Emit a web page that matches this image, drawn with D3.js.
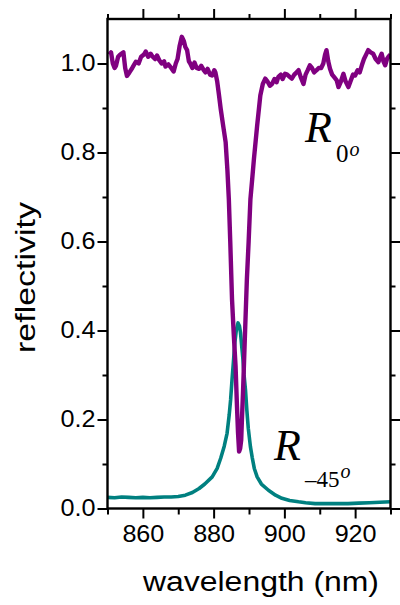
<!DOCTYPE html>
<html>
<head>
<meta charset="utf-8">
<script src="https://cdn.jsdelivr.net/npm/d3@7"></script>
<style>
  html, body { margin: 0; padding: 0; background: #fff; }
  svg { display: block; }
</style>
</head>
<body>
<svg id="chart" width="400" height="605"></svg>
<script>
// R at 0 degrees (purple)
const wl0 = [850.5, 851.0, 851.5, 852.0, 852.4, 853.0, 853.6, 854.5, 855.0, 855.5, 856.2, 857.0, 858.0, 858.8, 859.5,
  860.3, 860.8, 861.5, 862.2, 862.7, 863.5, 864.0, 864.6, 865.3, 866.0, 866.4, 867.2, 868.0, 868.7, 869.3, 869.8,
  870.4, 871.0, 871.6, 872.0, 872.5, 873.0, 873.4, 874.0, 874.6, 875.2, 875.9, 876.5, 877.2, 877.7, 878.3, 879.0,
  879.6, 880.2, 880.5, 881.0, 881.5, 882.0, 882.7, 883.4, 883.9, 884.3, 884.7, 885.2, 885.7, 886.2, 886.6, 886.9,
  887.2, 887.5, 887.8, 888.0, 888.3, 888.6, 888.9, 889.4, 889.9, 890.4, 890.9, 891.4, 892.3, 893.2, 893.9, 894.6,
  895.2, 895.9, 896.5, 897.2, 897.8, 898.3, 899.0, 899.5, 900.2, 900.8, 901.5, 902.1, 902.8, 903.4, 904.0, 904.6,
  905.4, 906.0, 906.6, 907.2, 907.8, 908.4, 909.1, 909.7, 910.4, 911.0, 911.5, 911.9, 912.4, 912.9, 913.5, 914.2,
  914.8, 915.3, 916.0, 916.7, 917.3, 918.1, 918.7, 919.4, 920.0, 920.7, 921.3, 921.9, 922.5, 923.1, 923.7, 924.4,
  925.1, 925.8, 926.6, 927.1, 927.5, 928.0, 928.5, 929.0, 929.4, 930.0];
const r0 = [1.02, 1.025, 1.0, 0.99, 0.995, 1.015, 1.02, 1.025, 0.99, 0.972, 0.98, 0.99, 1.004, 1.0, 1.015,
  1.02, 1.027, 1.015, 1.022, 1.016, 1.01, 1.018, 1.008, 1.0, 1.005, 0.993, 0.998, 0.99, 0.982, 1.0, 1.01,
  1.04, 1.06, 1.05, 1.037, 1.03, 1.005, 1.0, 0.99, 1.002, 0.99, 0.988, 0.995, 0.985, 0.98, 0.988, 0.975,
  0.973, 0.985, 0.98, 0.96, 0.93, 0.898, 0.86, 0.823, 0.76, 0.695, 0.6, 0.47, 0.39, 0.32, 0.23, 0.17,
  0.128, 0.135, 0.154, 0.2, 0.26, 0.33, 0.4, 0.515, 0.6, 0.695, 0.74, 0.786, 0.86, 0.928, 0.954, 0.966,
  0.96, 0.95, 0.954, 0.965, 0.958, 0.97, 0.975, 0.965, 0.977, 0.975, 0.97, 0.966, 0.975, 0.98, 0.985, 0.97,
  0.954, 0.975, 0.985, 0.996, 0.99, 0.98, 0.985, 0.99, 0.99, 1.0, 1.02, 1.03, 1.005, 0.988, 0.975, 0.968,
  0.962, 0.947, 0.96, 0.977, 0.96, 0.947, 0.96, 0.975, 0.973, 0.985, 0.98, 0.996, 1.01, 1.02, 1.03, 1.025,
  1.022, 1.01, 1.003, 1.015, 1.022, 1.005, 0.996, 1.01, 1.015, 1.02];

// R at -45 degrees (teal)
const wl45 = [850, 852, 854, 856, 858, 860, 862, 864, 866, 868, 870, 872, 874, 875.9, 877.5, 879.6, 881, 882,
  883, 883.8, 884.4, 884.8, 885.2, 885.6, 886.0, 886.4, 886.9, 887.3, 887.6, 888.0, 888.3, 888.6, 889.0, 889.4,
  889.8, 890.4, 890.9, 891.5, 892.3, 893.5, 895.5, 897.5, 899.3, 901.5, 904, 906, 908.7, 912, 915, 918, 921,
  924, 927, 930];
const r45 = [0.025, 0.024, 0.026, 0.025, 0.024, 0.025, 0.024, 0.025, 0.026, 0.026, 0.027, 0.03, 0.036, 0.045,
  0.055, 0.071, 0.09, 0.113, 0.14, 0.169, 0.21, 0.244, 0.289, 0.33, 0.373, 0.4, 0.417, 0.41, 0.395, 0.36, 0.334,
  0.3, 0.267, 0.22, 0.18, 0.139, 0.115, 0.09, 0.071, 0.055, 0.041, 0.03, 0.023, 0.018, 0.015, 0.013, 0.011,
  0.011, 0.011, 0.011, 0.012, 0.013, 0.014, 0.015];

const xTicks = [860, 880, 900, 920];
const xMinor = [850, 870, 890, 910, 930];
const yTicks = [0.0, 0.2, 0.4, 0.6, 0.8, 1.0];
const yMinor = [0.1, 0.3, 0.5, 0.7, 0.9];

const plotLeft = 107.5, plotRight = 390.5, plotTop = 19, plotBottom = 508.5;

const x = d3.scaleLinear().domain([850, 930]).range([plotLeft, plotRight]);
const y = d3.scaleLinear().domain([0, 1.1]).range([plotBottom, plotTop]);

const svg = d3.select("#chart");
const sansFont = "Arial, 'Liberation Sans', sans-serif";
const serifFont = "'Times New Roman', 'Liberation Serif', serif";

svg.append("defs").append("clipPath").attr("id", "plotClip")
  .append("rect")
  .attr("x", plotLeft).attr("y", plotTop)
  .attr("width", plotRight - plotLeft).attr("height", plotBottom - plotTop);

const line = d3.line().x(d => x(d[0])).y(d => y(d[1]));

// curves
svg.append("path")
  .datum(wl45.map((w, i) => [w, r45[i]]))
  .attr("clip-path", "url(#plotClip)")
  .attr("fill", "none")
  .attr("stroke", "#008080")
  .attr("stroke-width", 3.6)
  .attr("stroke-linejoin", "round")
  .attr("d", line);

svg.append("path")
  .datum(wl0.map((w, i) => [w, r0[i]]))
  .attr("clip-path", "url(#plotClip)")
  .attr("fill", "none")
  .attr("stroke", "#800080")
  .attr("stroke-width", 4.4)
  .attr("stroke-linejoin", "round")
  .attr("d", line);

// axes: major + minor ticks on all four sides
const styleAxis = (g, labelWidth) => {
  g.select(".domain").remove();
  g.selectAll(".tick line").attr("stroke", "#000").attr("stroke-width", 2);
  g.selectAll("text")
    .attr("font-family", sansFont)
    .attr("font-size", 23)
    .attr("fill", "#000");
  if (labelWidth) {
    g.selectAll("text")
      .attr("textLength", labelWidth)
      .attr("lengthAdjust", "spacingAndGlyphs");
  }
};

svg.append("g").attr("transform", `translate(0,${plotBottom})`)
  .call(d3.axisBottom(x).tickValues(xTicks).tickSize(10).tickPadding(7).tickFormat(d3.format("d")))
  .call(styleAxis, 42);
svg.append("g").attr("transform", `translate(0,${plotBottom})`)
  .call(d3.axisBottom(x).tickValues(xMinor).tickSize(6).tickFormat(""))
  .call(styleAxis);
svg.append("g").attr("transform", `translate(0,${plotTop})`)
  .call(d3.axisTop(x).tickValues(xTicks).tickSize(10).tickFormat(""))
  .call(styleAxis);
svg.append("g").attr("transform", `translate(0,${plotTop})`)
  .call(d3.axisTop(x).tickValues(xMinor).tickSize(5).tickFormat(""))
  .call(styleAxis);

svg.append("g").attr("transform", `translate(${plotLeft},0)`)
  .call(d3.axisLeft(y).tickValues(yTicks).tickSize(10).tickPadding(2).tickFormat(d3.format(".1f")))
  .call(styleAxis, 35);
svg.append("g").attr("transform", `translate(${plotLeft},0)`)
  .call(d3.axisLeft(y).tickValues(yMinor).tickSize(5).tickFormat(""))
  .call(styleAxis);
svg.append("g").attr("transform", `translate(${plotRight},0)`)
  .call(d3.axisRight(y).tickValues(yTicks).tickSize(10).tickFormat(""))
  .call(styleAxis);
svg.append("g").attr("transform", `translate(${plotRight},0)`)
  .call(d3.axisRight(y).tickValues(yMinor).tickSize(5).tickFormat(""))
  .call(styleAxis);

// frame
svg.append("rect")
  .attr("x", plotLeft).attr("y", plotTop)
  .attr("width", plotRight - plotLeft).attr("height", plotBottom - plotTop)
  .attr("fill", "none")
  .attr("stroke", "#000")
  .attr("stroke-width", 2.4);

// axis titles
svg.append("text")
  .attr("x", 143).attr("y", 591)
  .attr("font-family", sansFont)
  .attr("font-size", 27)
  .attr("textLength", 236)
  .attr("lengthAdjust", "spacingAndGlyphs")
  .text("wavelength (nm)");

svg.append("text")
  .attr("transform", "translate(35,353) rotate(-90)")
  .attr("font-family", sansFont)
  .attr("font-size", 27)
  .attr("textLength", 151)
  .attr("lengthAdjust", "spacingAndGlyphs")
  .text("reflectivity");

// curve labels: italic R, subscript with a small italic "o" as degree mark
const label = (px, py, sub, subSize, subX, subY, supDy) => {
  const g = svg.append("g").attr("font-family", serifFont).attr("fill", "#000");
  g.append("text").attr("x", px).attr("y", py)
    .attr("font-size", 44).attr("font-style", "italic").text("R");
  const t = g.append("text").attr("x", subX).attr("y", subY);
  t.append("tspan").attr("font-size", subSize).text(sub);
  t.append("tspan")
    .attr("dx", 1).attr("dy", supDy)
    .attr("font-size", 20).attr("font-style", "italic")
    .text("o");
};
label(305, 142, "0", 25, 336, 162, -6);
label(274, 460, "\u201345", 23, 305, 487, -9);
</script>
</body>
</html>
